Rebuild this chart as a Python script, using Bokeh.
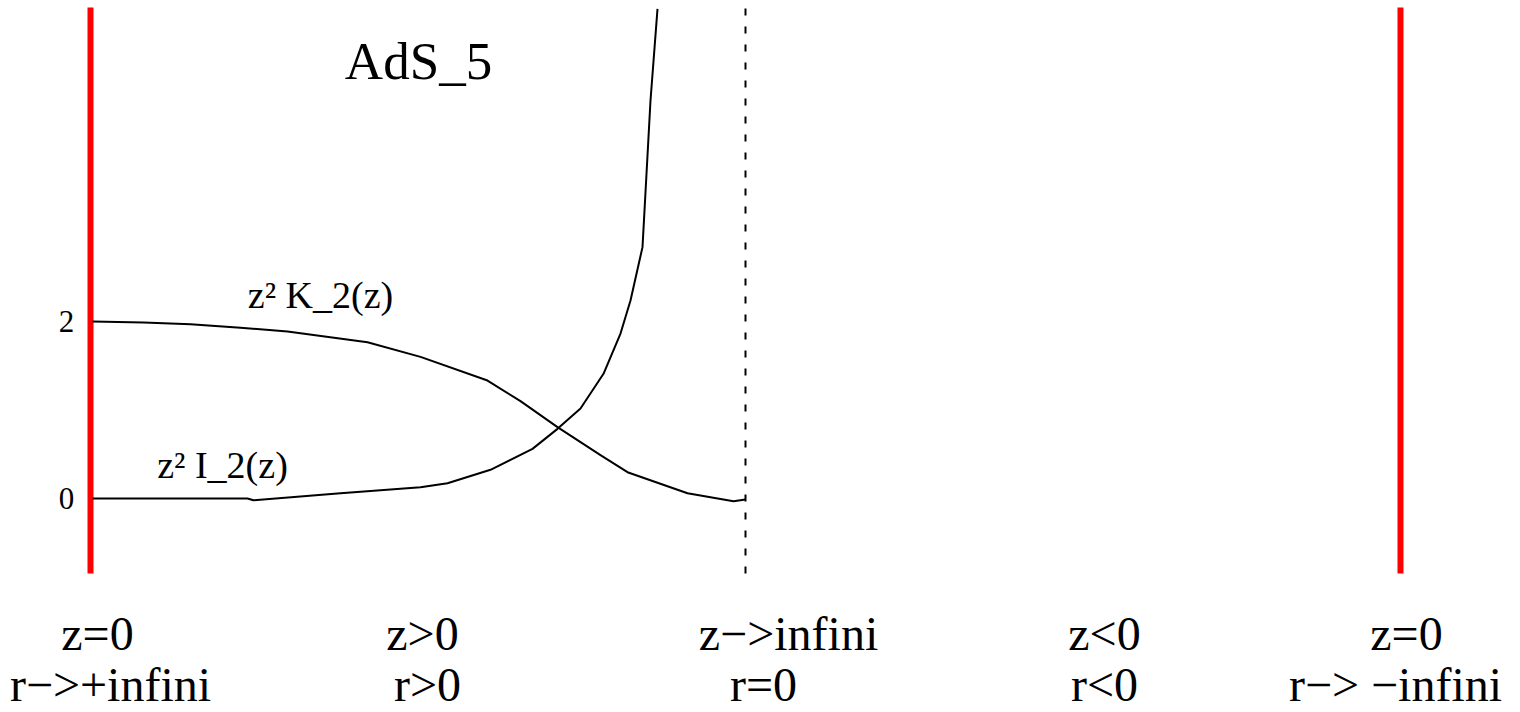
from bokeh.plotting import figure
from bokeh.models import Range1d
from bokeh.core.properties import value
from bokeh.embed import file_html
from bokeh.resources import INLINE

# ---- data (x: position along the diagram, 0 = left boundary z=0) ----
k_x = [0.02, 0.53, 1.0, 1.5, 1.97, 2.77, 3.3, 3.97, 4.3, 4.67, 5.1, 5.37, 5.97, 6.43, 6.55]
k_y = [2.0, 1.99, 1.97, 1.93, 1.887, 1.766, 1.60, 1.333, 1.10, 0.806, 0.49, 0.297, 0.060, -0.030, -0.011]

i_x = [0.02, 1.57, 1.63, 2.5, 3.3, 3.57, 4.0, 4.42, 4.67, 4.9, 5.13, 5.3, 5.4, 5.52, 5.6, 5.67]
i_y = [0.0, 0.0, -0.02, 0.06, 0.128, 0.173, 0.324, 0.561, 0.787, 1.017, 1.409, 1.864, 2.237, 2.84, 4.497, 5.533]

boundary_x = [0.0, 13.1]       # z = 0 boundaries (red)
horizon_x = [6.55]             # z -> infinity (dashed)
line_top, line_bottom = 5.548, -0.847

tick_values = [0, 2]
tick_labels = ["0", "2"]

curve_labels = ["z\u00b2 K_2(z)", "z\u00b2 I_2(z)"]
curve_label_x = [2.30, 1.32]
curve_label_y = [2.294, 0.373]

title_text = ["AdS_5"]
title_x = [3.28]
title_y = [4.94]

row1_labels = ["z=0", "z>0", "z\u2212>infini", "z<0", "z=0"]
row1_x = [0.07, 3.32, 6.98, 10.14, 13.16]
row2_labels = ["r\u2212>+infini", "r>0", "r=0", "r<0", "r\u2212> \u2212infini"]
row2_x = [0.2, 3.37, 6.73, 10.14, 13.05]
row1_y, row2_y = -1.525, -2.10

FONT = value("Liberation Serif")

p = figure(width=1520, height=712, output_backend="svg", toolbar_location=None,
           x_range=Range1d(-0.9, 14.3), y_range=Range1d(-2.418, 5.627),
           min_border=0, outline_line_color=None)
p.axis.visible = False
p.grid.visible = False
p.background_fill_color = "white"

# boundaries
for bx in boundary_x:
    p.line([bx, bx], [line_bottom, line_top], line_color="#ff0000", line_width=6, line_cap="butt")
for hx in horizon_x:
    p.line([hx, hx], [line_bottom, line_top], line_color="black", line_width=2, line_dash="7 11")

# curves
p.line(k_x, k_y, line_color="black", line_width=2)
p.line(i_x, i_y, line_color="black", line_width=2)

# tick labels
p.text(x=[-0.24] * len(tick_values), y=tick_values, text=tick_labels,
       text_font=FONT, text_font_size="31px", text_align="center",
       text_baseline="middle", text_color="black")

# curve labels
p.text(x=curve_label_x, y=curve_label_y, text=curve_labels, text_font=FONT,
       text_font_size="38px", text_align="center", text_baseline="middle", text_color="black")

# title
p.text(x=title_x, y=title_y, text=title_text, text_font=FONT, text_font_size="53px",
       text_align="center", text_baseline="middle", text_color="black")

# bottom labels
p.text(x=row1_x, y=[row1_y] * len(row1_x), text=row1_labels, text_font=FONT,
       text_font_size="48px", text_align="center", text_baseline="middle", text_color="black")
p.text(x=row2_x, y=[row2_y] * len(row2_x), text=row2_labels, text_font=FONT,
       text_font_size="48px", text_align="center", text_baseline="middle", text_color="black")

open("out.html", "w").write(file_html(p, INLINE))
